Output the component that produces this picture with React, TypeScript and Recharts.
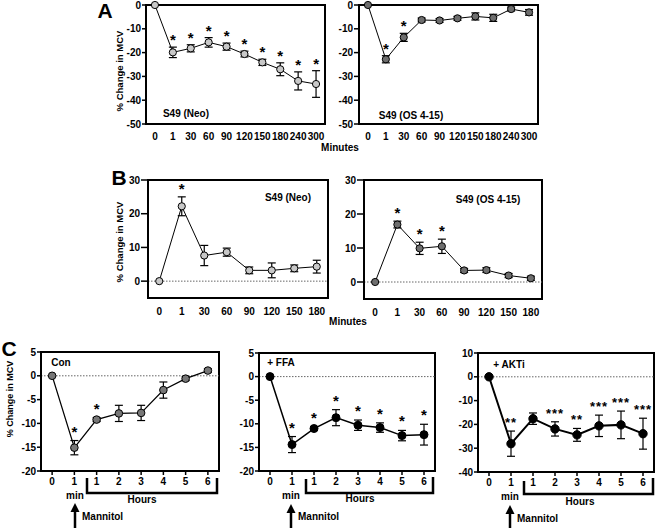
import React from 'react';
import { LineChart, Line, XAxis, YAxis, ErrorBar, ReferenceLine, ReferenceArea, LabelList } from 'recharts';

const FONT = '"Liberation Sans", Arial, Helvetica, sans-serif';

// ---------- Panel A ----------
const minutesA = ['0', '1', '30', '60', '90', '120', '150', '180', '240', '300'];
const neoA = [0, -19.9, -18.2, -15.7, -17.5, -20.6, -24.1, -27.0, -31.9, -33.2];
const neoAErr = [0, 2.2, 1.5, 2.0, 1.5, 1.2, 1.3, 2.7, 3.8, 5.6];
const neoAStars = ['', '*', '*', '*', '*', '*', '*', '*', '*', '*'];
const osA = [0, -22.8, -13.6, -6.3, -6.5, -5.6, -4.8, -5.4, -1.7, -3.1];
const osAErr = [0, 1.5, 1.7, 0.8, 0.8, 0.8, 1.5, 1.5, 0.8, 1.2];
const osAStars = ['', '*', '*', '', '', '', '', '', '', ''];
const ticksA = [-50, -40, -30, -20, -10, 0];

// ---------- Panel B ----------
const minutesB = ['0', '1', '30', '60', '90', '120', '150', '180'];
const neoB = [0, 22.2, 7.6, 8.6, 3.2, 3.2, 3.8, 4.3];
const neoBErr = [0, 2.8, 3.0, 1.2, 1.0, 2.2, 1.0, 1.9];
const neoBStars = ['', '*', '', '', '', '', '', ''];
const osB = [0, 16.9, 9.9, 10.5, 3.4, 3.5, 1.9, 1.1];
const osBErr = [0, 1.0, 1.8, 2.1, 0.6, 0.7, 0.6, 0.6];
const osBStars = ['', '*', '*', '*', '', '', '', ''];
const ticksB = [0, 10, 20, 30];

// ---------- Panel C ----------
const timesC = ['0', '1', '1', '2', '3', '4', '5', '6'];
const conC = [0, -15.1, -9.2, -7.9, -7.8, -3.0, -0.6, 1.1];
const conCErr = [0, 1.5, 0.4, 1.7, 1.6, 1.7, 0.4, 0.4];
const conCStars = ['', '*', '*', '', '', '', '', ''];
const ffaC = [0, -14.4, -11.0, -8.7, -10.3, -10.8, -12.5, -12.3];
const ffaCErr = [0, 1.7, 0.4, 1.7, 1.1, 1.0, 1.1, 2.2];
const ffaCStars = ['', '*', '*', '*', '*', '*', '*', '*'];
const aktC = [0, -28.1, -17.6, -21.9, -24.4, -20.6, -20.2, -23.9];
const aktCErr = [0, 5.3, 2.4, 3.0, 2.7, 4.5, 5.8, 6.5];
const aktCStars = ['', '**', '', '***', '**', '***', '***', '***'];
const ticksC = [-20, -15, -10, -5, 0, 5];
const ticksCAkt = [-40, -30, -20, -10, 0, 10];

type PanelProps = {
  plot: [number, number, number, number];
  cats: string[];
  vals: number[];
  errs: number[];
  stars: string[];
  domain: [number, number];
  ticks: number[];
  fill: string;
  r: number;
  lw: number;
  zero: boolean;
  xTicks: boolean;
  xGap: number;
  yTick: number;
  starSize: number;
  starOffset: number;
  starSpacing?: number;
};

function Panel(p: PanelProps) {
  const [x0, y0, x1, y1] = p.plot;
  const YW = 40, MT = 10, MR = 14, XH = 30;
  const data = p.cats.map((c, i) => ({
    k: i,
    v: p.vals[i],
    e: p.errs[i] ? p.errs[i] : null,
    top: p.vals[i] + p.errs[i],
    s: p.stars[i],
  }));
  const xTicks = p.cats.map((c, i) => i);
  const tickStyle = { fontSize: 10, fontWeight: 'bold', fill: '#000', fontFamily: FONT };
  return (
    <div style={{ position: 'absolute', left: x0 - YW, top: y0 - MT }}>
      <LineChart
        width={x1 - x0 + YW + MR}
        height={y1 - y0 + MT + XH}
        data={data}
        margin={{ top: MT, right: MR, bottom: 0, left: 0 }}
      >
        <XAxis
          dataKey="k"
          type="number"
          domain={[-0.5, p.cats.length - 0.5]}
          ticks={xTicks}
          interval={0}
          tickFormatter={(i: number) => p.cats[i]}
          axisLine={false}
          tickLine={p.xTicks ? { stroke: '#000', strokeWidth: 1.5 } : false}
          tickSize={p.xTicks ? 4 : p.xGap - 2}
          tickMargin={p.xTicks ? p.xGap - 4 : 2}
          height={XH}
          tick={tickStyle}
        />
        <YAxis
          type="number"
          domain={p.domain}
          ticks={p.ticks}
          interval={0}
          width={YW}
          axisLine={{ stroke: '#000', strokeWidth: 2 }}
          tickLine={{ stroke: '#000', strokeWidth: 1.5 }}
          tickSize={p.yTick}
          tickMargin={1}
          tick={tickStyle}
        />
        {p.zero && <ReferenceLine y={0} stroke="#666" strokeDasharray="1.5 1.5" strokeWidth={1} />}
        <ReferenceArea
          y1={p.domain[0]}
          y2={p.domain[1]}
          fill="none"
          fillOpacity={0}
          stroke="#000"
          strokeWidth={2}
          ifOverflow="visible"
        />
        <Line
          dataKey="v"
          stroke="#000"
          strokeWidth={p.lw}
          dot={{ r: p.r, fill: p.fill, stroke: '#000', strokeWidth: 1, fillOpacity: 1 }}
          activeDot={false}
          isAnimationActive={false}
        />
        <Line dataKey="v" stroke="none" dot={false} activeDot={false} isAnimationActive={false}>
          <ErrorBar dataKey="e" width={4} stroke="#000" strokeWidth={1.2} direction="y" />
        </Line>
        <Line dataKey="top" stroke="none" dot={false} activeDot={false} isAnimationActive={false}>
          <LabelList
            dataKey="s"
            position="top"
            offset={p.starOffset}
            fontSize={p.starSize}
            fontWeight="bold"
            fill="#000"
            fontFamily={FONT}
            letterSpacing={p.starSpacing || 0}
          />
        </Line>
      </LineChart>
    </div>
  );
}

const textBase: React.CSSProperties = {
  position: 'absolute',
  fontFamily: FONT,
  fontWeight: 'bold',
  color: '#000',
  whiteSpace: 'nowrap',
  lineHeight: 1,
};

function T({ x, y, size = 10, left = false, rot = false, children }: any) {
  return (
    <div
      style={{
        ...textBase,
        left: x,
        top: y,
        fontSize: size,
        transform: rot
          ? 'translate(-50%,-50%) rotate(-90deg)'
          : left
          ? 'translate(0,-50%)'
          : 'translate(-50%,-50%)',
      }}
    >
      {children}
    </div>
  );
}

export default function App() {
  return (
    <div style={{ position: 'absolute', left: 0, top: 0, width: 656, height: 528, background: '#fff', overflow: 'hidden' }}>
      {/* Panel A */}
      <Panel plot={[146, 5, 325, 124]} cats={minutesA} vals={neoA} errs={neoAErr} stars={neoAStars}
        domain={[-50, 0]} ticks={ticksA} fill="#c8c8c8" r={3.6} lw={1} zero={false} xTicks={false} xGap={9}
        yTick={4} starSize={15} starOffset={2} />
      <Panel plot={[359, 5, 538, 124]} cats={minutesA} vals={osA} errs={osAErr} stars={osAStars}
        domain={[-50, 0]} ticks={ticksA} fill="#6e6e6e" r={3.6} lw={1} zero={false} xTicks={false} xGap={9}
        yTick={5} starSize={15} starOffset={2} />
      {/* Panel B */}
      <Panel plot={[148, 180, 328, 298]} cats={minutesB} vals={neoB} errs={neoBErr} stars={neoBStars}
        domain={[-5, 30]} ticks={ticksB} fill="#c8c8c8" r={3.6} lw={1} zero={true} xTicks={false} xGap={10}
        yTick={7} starSize={15} starOffset={3} />
      <Panel plot={[364, 180, 542, 299]} cats={minutesB} vals={osB} errs={osBErr} stars={osBStars}
        domain={[-5, 30]} ticks={ticksB} fill="#6e6e6e" r={3.6} lw={1} zero={true} xTicks={false} xGap={10}
        yTick={7} starSize={15} starOffset={3} />
      {/* Panel C */}
      <Panel plot={[41, 352, 219, 471]} cats={timesC} vals={conC} errs={conCErr} stars={conCStars}
        domain={[-20, 5]} ticks={ticksC} fill="#777777" r={3.8} lw={1.2} zero={true} xTicks={true} xGap={7}
        yTick={4} starSize={15} starOffset={4} />
      <Panel plot={[259, 353, 435, 471]} cats={timesC} vals={ffaC} errs={ffaCErr} stars={ffaCStars}
        domain={[-20, 5]} ticks={ticksC} fill="#000000" r={4} lw={1.5} zero={true} xTicks={true} xGap={7}
        yTick={4} starSize={15} starOffset={4} />
      <Panel plot={[478, 353, 654, 472]} cats={timesC} vals={aktC} errs={aktCErr} stars={aktCStars}
        domain={[-40, 10]} ticks={ticksCAkt} fill="#000000" r={4.2} lw={2} zero={true} xTicks={true} xGap={7}
        yTick={4} starSize={13} starOffset={4} starSpacing={1} />

      {/* Panel letters */}
      <T x={105} y={10} size={21}>A</T>
      <T x={119} y={177} size={21}>B</T>
      <T x={9} y={348} size={21}>C</T>

      {/* Axis titles */}
      <T x={120} y={71} size={9.5} rot>% Change in MCV</T>
      <T x={120} y={242} size={9.5} rot>% Change in MCV</T>
      <T x={10} y={399} size={9} rot>% Change in MCV</T>
      <T x={340} y={148} size={10}>Minutes</T>
      <T x={348} y={322} size={10}>Minutes</T>

      {/* Panel titles */}
      <T x={186} y={114} size={10}>S49 (Neo)</T>
      <T x={411} y={116} size={10}>S49 (OS 4-15)</T>
      <T x={288} y={198} size={10}>S49 (Neo)</T>
      <T x={488} y={200} size={10}>S49 (OS 4-15)</T>
      <T x={61} y={363} size={10}>Con</T>
      <T x={281} y={363} size={10}>+ FFA</T>
      <T x={509} y={365} size={10}>+ AKTi</T>

      {/* Time annotations */}
      <T x={75} y={496} size={10}>min</T>
      <T x={142} y={500} size={10}>Hours</T>
      <T x={82} y={517} size={10} left>Mannitol</T>
      <T x={291} y={496} size={10}>min</T>
      <T x={360} y={499} size={10}>Hours</T>
      <T x={298} y={517} size={10} left>Mannitol</T>
      <T x={510} y={497} size={10}>min</T>
      <T x={580} y={502} size={10}>Hours</T>
      <T x={517} y={519} size={10} left>Mannitol</T>

      <svg width={656} height={528} style={{ position: 'absolute', left: 0, top: 0, pointerEvents: 'none' }}>
        <g fill="none" stroke="#000" strokeWidth={2.5}>
          <path d="M87,478 V493 H217 V478" />
          <path d="M306,479 V493 H433 V477" />
          <path d="M524,481 V494 H653 V478" />
          <line x1={75} y1={510} x2={75} y2={528} />
          <line x1={291} y1={511} x2={291} y2={528} />
          <line x1={510} y1={512} x2={510} y2={528} />
        </g>
        <g fill="#000">
          <polygon points="75,503 70.5,512 79.5,512" />
          <polygon points="291,504 286.5,513 295.5,513" />
          <polygon points="510,505 505.5,514 514.5,514" />
        </g>
      </svg>
    </div>
  );
}
